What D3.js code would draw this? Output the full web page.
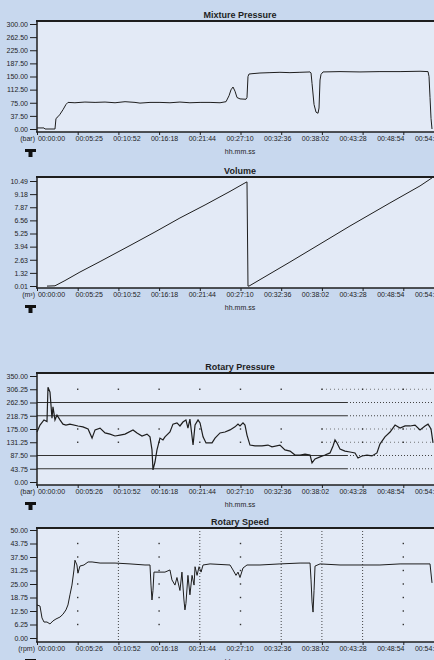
<!DOCTYPE html>
<html>
<head>
<meta charset="utf-8">
<script src="https://cdn.jsdelivr.net/npm/d3@7"></script>
<style>
  html, body { margin: 0; padding: 0; background: #c8d8ee; }
  svg { display: block; font-family: "Liberation Sans", Arial, sans-serif; }
</style>
</head>
<body>
<div id="chart"></div>
<script>
// time ticks (seconds) and their labels
const tickTimes = d3.range(0, 11).map(i => i * 326);
const tickLabelsA = ["00:00:00","00:05:25","00:10:52","00:16:18","00:21:44","00:27:10","00:32:36","00:38:02","00:43:28","00:48:54","00:54:20"];
const tickLabelsB = ["00:00:00","00:05:26","00:10:52","00:16:18","00:21:44","00:27:10","00:32:36","00:38:02","00:43:28","00:48:54","00:54:20"];

// Mixture Pressure (bar)
const mixTicks = [0, 37.5, 75, 112.5, 150, 187.5, 225, 262.5, 300];
const mixTime = [0,56,64,136,144,152,168,184,208,232,248,304,384,465,545,625,705,785,825,905,985,1065,1145,1225,1306,1386,1466,1514,1538,1554,1570,1586,1602,1626,1674,1682,1690,1698,1722,1786,1866,1946,2026,2106,2187,2195,2203,2219,2235,2251,2259,2267,2275,2291,2427,2587,2747,2908,3068,3132,3140,3148,3156,3164];
const mixValue = [3,3,0,0,0,30,35,42,55,70,76,75,77,76,77,75,78,76,74,76,76,75,77,75,76,76,75,78,95,112,120,108,90,86,85,90,150,157,158,160,161,162,161,162,163,160,130,70,48,45,60,140,156,163,164,163,164,164,165,164,150,90,30,0];

// Volume (m³)
const volTicks = [0.01, 1.32, 2.63, 3.94, 5.25, 6.56, 7.87, 9.18, 10.49];
const volTime = [80,144,224,344,505,745,945,1145,1346,1546,1666,1682,1690,1698,2026,2267,2507,2827,3068,3164];
const volValue = [0,0.03,0.55,1.4,2.45,4.05,5.4,6.8,8.1,9.45,10.3,10.4,0,0,2.4,4.2,6.0,8.3,10.0,10.8];

// Rotary Pressure (bar)
const rpTicks = [0, 43.75, 87.5, 131.25, 175, 218.75, 262.5, 306.25, 350];
const rpTime = [0,24,56,80,88,104,120,128,144,160,184,208,232,264,328,368,409,441,465,505,545,585,625,665,705,769,801,841,881,905,921,929,945,961,985,1009,1025,1065,1089,1121,1145,1169,1193,1209,1225,1250,1266,1290,1306,1330,1354,1402,1426,1466,1506,1546,1586,1610,1626,1650,1666,1682,1706,1746,1802,1850,1882,1946,1986,2027,2067,2107,2147,2187,2203,2227,2267,2307,2347,2371,2387,2403,2427,2467,2507,2547,2571,2603,2643,2683,2723,2747,2787,2828,2868,2908,2948,2988,3028,3068,3108,3132,3156,3172];
const rpValue = [165,188,205,200,313,297,211,248,205,221,205,191,188,191,185,182,175,145,172,178,162,158,152,155,158,172,162,152,158,149,106,40,66,106,145,139,149,165,191,195,185,198,205,178,208,122,188,205,195,149,129,129,145,162,165,172,182,191,185,195,188,155,122,119,119,122,116,122,106,102,89,89,92,89,63,76,83,89,96,119,139,129,109,102,99,96,79,86,89,86,96,125,149,165,188,178,185,185,188,172,185,191,175,129];

// Rotary Speed (rpm)
const rsTicks = [0, 6.25, 12.5, 18.75, 25, 31.25, 37.5, 43.75, 50];
const rsTime = [0,24,40,56,80,104,128,152,184,208,232,248,264,280,296,304,320,328,344,376,409,441,505,625,745,865,905,913,921,929,937,985,1025,1065,1081,1105,1121,1145,1161,1177,1185,1193,1209,1225,1242,1258,1266,1282,1298,1314,1330,1386,1546,1570,1594,1610,1626,1650,1682,1786,1946,2107,2187,2195,2203,2211,2219,2227,2267,2427,2747,2908,3148,3164];
const rsValue = [15.3,14.8,9.3,7.4,7.4,6.5,7.9,8.8,9.7,11,13,15.3,20,24.5,31.5,36,33.8,30,33.3,33.8,35.2,35.2,34.7,34.7,34.3,33.8,33.8,24.5,17.6,22,30.5,30.5,30.5,31.5,26.9,24.5,28,22,30.5,17.6,13,16,29,20,29,24.5,33,29,33,30.5,33.8,34.3,33.8,31.5,29,30.5,28,32.4,33.8,33.8,34.3,34.7,34.7,26.9,16.7,12,22,33.3,34.3,33.8,33.8,34.3,34.3,25.5];

const W = 434, H = 660;
const plotLeft = 37, plotRight = 440;
const ink = "#1e1e1e";

const svg = d3.select("#chart").append("svg")
    .attr("width", W)
    .attr("height", H);

svg.append("rect").attr("width", W).attr("height", H).attr("fill", "#c8d8ee");

// same time scale for the 4 panels
const x = d3.scaleLinear().domain([0, 3260]).range([plotLeft, 444]);
// the printed labels drift a bit from the tick marks
const xLabel = d3.scaleLinear().domain([0, 3260]).range([51, 428]);

const fmt = d3.format(".2f");

const panels = [
    { title: "Mixture Pressure", unit: "(bar)", top: 21, bottom: 132, range: [129, 24], domain: [0, 300],
      ticks: mixTicks, time: mixTime, value: mixValue, labels: tickLabelsA, style: "plain" },
    { title: "Volume", unit: "(m³)", top: 177, bottom: 288, range: [286, 181], domain: [0.01, 10.49],
      ticks: volTicks, time: volTime, value: volValue, labels: tickLabelsA, style: "plain" },
    { title: "Rotary Pressure", unit: "(bar)", top: 373, bottom: 485, range: [482, 376], domain: [0, 350],
      ticks: rpTicks, time: rpTime, value: rpValue, labels: tickLabelsB, style: "hgrid" },
    { title: "Rotary Speed", unit: "(rpm)", top: 528, bottom: 642, range: [638, 530], domain: [0, 50],
      ticks: rsTicks, time: rsTime, value: rsValue, labels: tickLabelsB, style: "vgrid" }
];

panels.forEach(function (p) {
    const y = d3.scaleLinear().domain(p.domain).range(p.range);
    const g = svg.append("g");

    // plot area
    g.append("rect")
        .attr("x", plotLeft)
        .attr("y", p.top)
        .attr("width", plotRight - plotLeft)
        .attr("height", p.bottom - p.top)
        .attr("fill", "#e3eaf6");

    // grid marks
    if (p.style === "hgrid") {
        [262.5, 218.75, 87.5, 43.75].forEach(function (v) {
            g.append("line").attr("x1", plotLeft).attr("x2", 347)
                .attr("y1", y(v)).attr("y2", y(v))
                .attr("stroke", "#333").attr("stroke-width", 1);
            g.append("line").attr("x1", 347).attr("x2", W)
                .attr("y1", y(v)).attr("y2", y(v))
                .attr("stroke", "#444").attr("stroke-width", 1)
                .attr("stroke-dasharray", "1,2");
        });
        [306.25, 175, 131.25].forEach(function (v) {
            g.append("line").attr("x1", 322).attr("x2", W)
                .attr("y1", y(v)).attr("y2", y(v))
                .attr("stroke", "#555").attr("stroke-width", 0.8)
                .attr("stroke-dasharray", "1,3");
            tickTimes.slice(1).forEach(function (t) {
                g.append("rect").attr("x", x(t) - 0.7).attr("y", y(v) - 0.7)
                    .attr("width", 1.4).attr("height", 1.4).attr("fill", "#333");
            });
        });
    }
    if (p.style === "vgrid") {
        [652, 1304, 1956, 2282, 2608].forEach(function (t) {
            g.append("line").attr("x1", x(t)).attr("x2", x(t))
                .attr("y1", p.top).attr("y2", p.bottom)
                .attr("stroke", "#333").attr("stroke-width", 0.9)
                .attr("stroke-dasharray", "1,2");
        });
        [326, 978, 1630, 2934].forEach(function (t) {
            p.ticks.slice(1, -1).forEach(function (v) {
                g.append("rect").attr("x", x(t) - 0.7).attr("y", y(v) - 0.7)
                    .attr("width", 1.4).attr("height", 1.4).attr("fill", "#333");
            });
        });
    }

    // data line
    const pts = p.time.map((t, i) => [t, p.value[i]]);
    g.append("path")
        .datum(pts)
        .attr("d", d3.line().x(d => x(d[0])).y(d => y(d[1])))
        .attr("fill", "none")
        .attr("stroke", ink)
        .attr("stroke-width", p.style === "hgrid" ? 1.2 : 1);

    // frame
    g.append("line").attr("x1", plotLeft - 1).attr("x2", W).attr("y1", p.top).attr("y2", p.top)
        .attr("stroke", ink).attr("stroke-width", 2);
    g.append("line").attr("x1", plotLeft - 1).attr("x2", W).attr("y1", p.bottom).attr("y2", p.bottom)
        .attr("stroke", ink).attr("stroke-width", 1.5);
    g.append("line").attr("x1", plotLeft).attr("x2", plotLeft).attr("y1", p.top).attr("y2", p.bottom)
        .attr("stroke", ink).attr("stroke-width", 1.5);

    // y axis
    const ya = g.append("g")
        .attr("transform", `translate(${plotLeft},0)`)
        .call(d3.axisLeft(y).tickValues(p.ticks).tickFormat(fmt).tickSize(7).tickPadding(2));
    ya.select(".domain").remove();
    ya.selectAll("line").attr("stroke", ink);
    ya.selectAll("text").attr("fill", ink).style("font-size", "7px").attr("font-family", null);

    // x axis
    const xa = g.append("g")
        .attr("transform", `translate(0,${p.bottom})`)
        .call(d3.axisBottom(x).tickValues(tickTimes).tickFormat((d, i) => p.labels[i]).tickSize(3).tickPadding(2));
    xa.select(".domain").remove();
    xa.selectAll("line").attr("stroke", ink);
    xa.selectAll("text")
        .attr("fill", ink)
        .attr("x", d => xLabel(d) - x(d))
        .attr("y", 4)
        .style("font-size", "7px")
        .attr("font-family", null);

    // title
    g.append("text")
        .attr("x", 240)
        .attr("y", p.top - 3)
        .attr("text-anchor", "middle")
        .style("font-size", "9px")
        .style("font-weight", "bold")
        .attr("fill", ink)
        .text(p.title);

    // unit
    g.append("text")
        .attr("x", 35)
        .attr("y", p.bottom + 9)
        .attr("text-anchor", "end")
        .style("font-size", "7px")
        .attr("fill", ink)
        .text(p.unit);

    // axis title
    g.append("text")
        .attr("x", 240)
        .attr("y", p.bottom + 22)
        .attr("text-anchor", "middle")
        .style("font-size", "7px")
        .attr("fill", ink)
        .text("hh.mm.ss");

    // the little "T" marker
    g.append("rect").attr("x", 25).attr("y", p.bottom + 17).attr("width", 11).attr("height", 3).attr("fill", "#111");
    g.append("rect").attr("x", 28.5).attr("y", p.bottom + 17).attr("width", 4).attr("height", 8).attr("fill", "#111");
});
</script>
</body>
</html>
